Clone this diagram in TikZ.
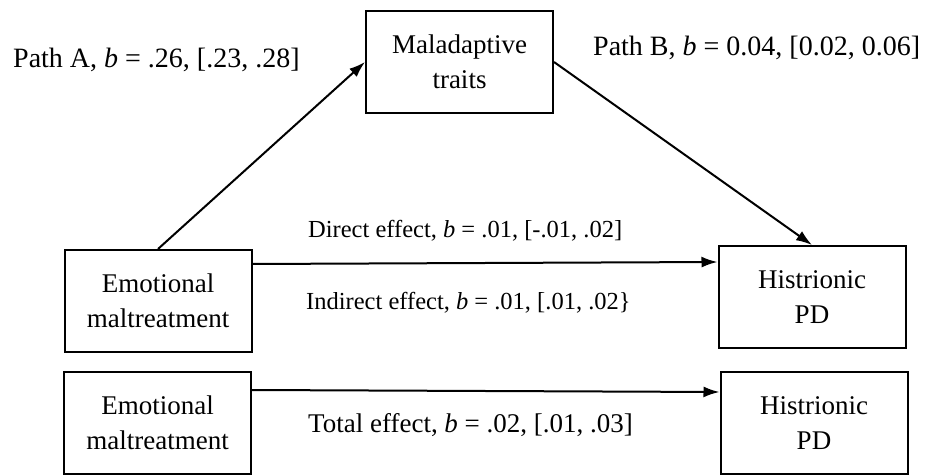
\documentclass[tikz,border=0pt]{standalone}
\usepackage{fontspec}
\setmainfont{Liberation Serif}
\usetikzlibrary{arrows.meta}
\begin{document}
\begin{tikzpicture}[x=1pt,y=-1pt,
  box/.style={draw, line width=2pt, minimum width=187pt, minimum height=102pt,
    align=center, inner sep=0pt, font=\fontsize{27}{35}\selectfont},
  link/.style={line width=2pt, -{Latex[length=16pt,width=11pt]}},
  lbl/.style={inner sep=0pt},
  big/.style={lbl, font=\fontsize{28}{32}\selectfont},
  mid/.style={lbl, font=\fontsize{24.5}{28}\selectfont}]
\useasboundingbox[fill=white] (0,0) rectangle (930,476);

% variables
\node[box] (M)  at (459.5,62)  {Maladaptive\\traits};
\node[box] (E1) at (158,301)   {Emotional\\maltreatment};
\node[box] (H1) at (812,297)   {Histrionic\\PD};
\node[box] (E2) at (157.5,423) {Emotional\\maltreatment};
\node[box] (H2) at (814,423)   {Histrionic\\PD};

% mediation paths
\draw[link] (E1.north) -- (M.west);
\draw[link] (M.east) -- (H1.north);
\coordinate (d0) at ([yshift=-15pt]E1.north east);
\coordinate (d1) at ([yshift=-17pt]H1.north west);
\draw[link] (d0) -- (d1);
\coordinate (t0) at ([yshift=-19pt]E2.north east);
\coordinate (t1) at ([yshift=-21pt]H2.north west);
\draw[link] (t0) -- (t1);

% path estimates
\node[big, anchor=base west] (pa) at (13,68) {Path A, \textit{b} = .26, [.23, .28]};
\node[big, anchor=base west] (pb) at (593,56) {Path B, \textit{b} = 0.04, [0.02, 0.06]};
\node[mid, anchor=base west] (de) at (308,237) {Direct effect, \textit{b} = .01, [-.01, .02]};
\node[mid, anchor=base west] (ie) at (306,309) {Indirect effect, \textit{b} = .01, [.01, .02\}};
\node[lbl, font=\fontsize{27}{32}\selectfont, anchor=base west] (te) at (308,432) {Total effect, \textit{b} = .02, [.01, .03]};
\end{tikzpicture}
\end{document}
